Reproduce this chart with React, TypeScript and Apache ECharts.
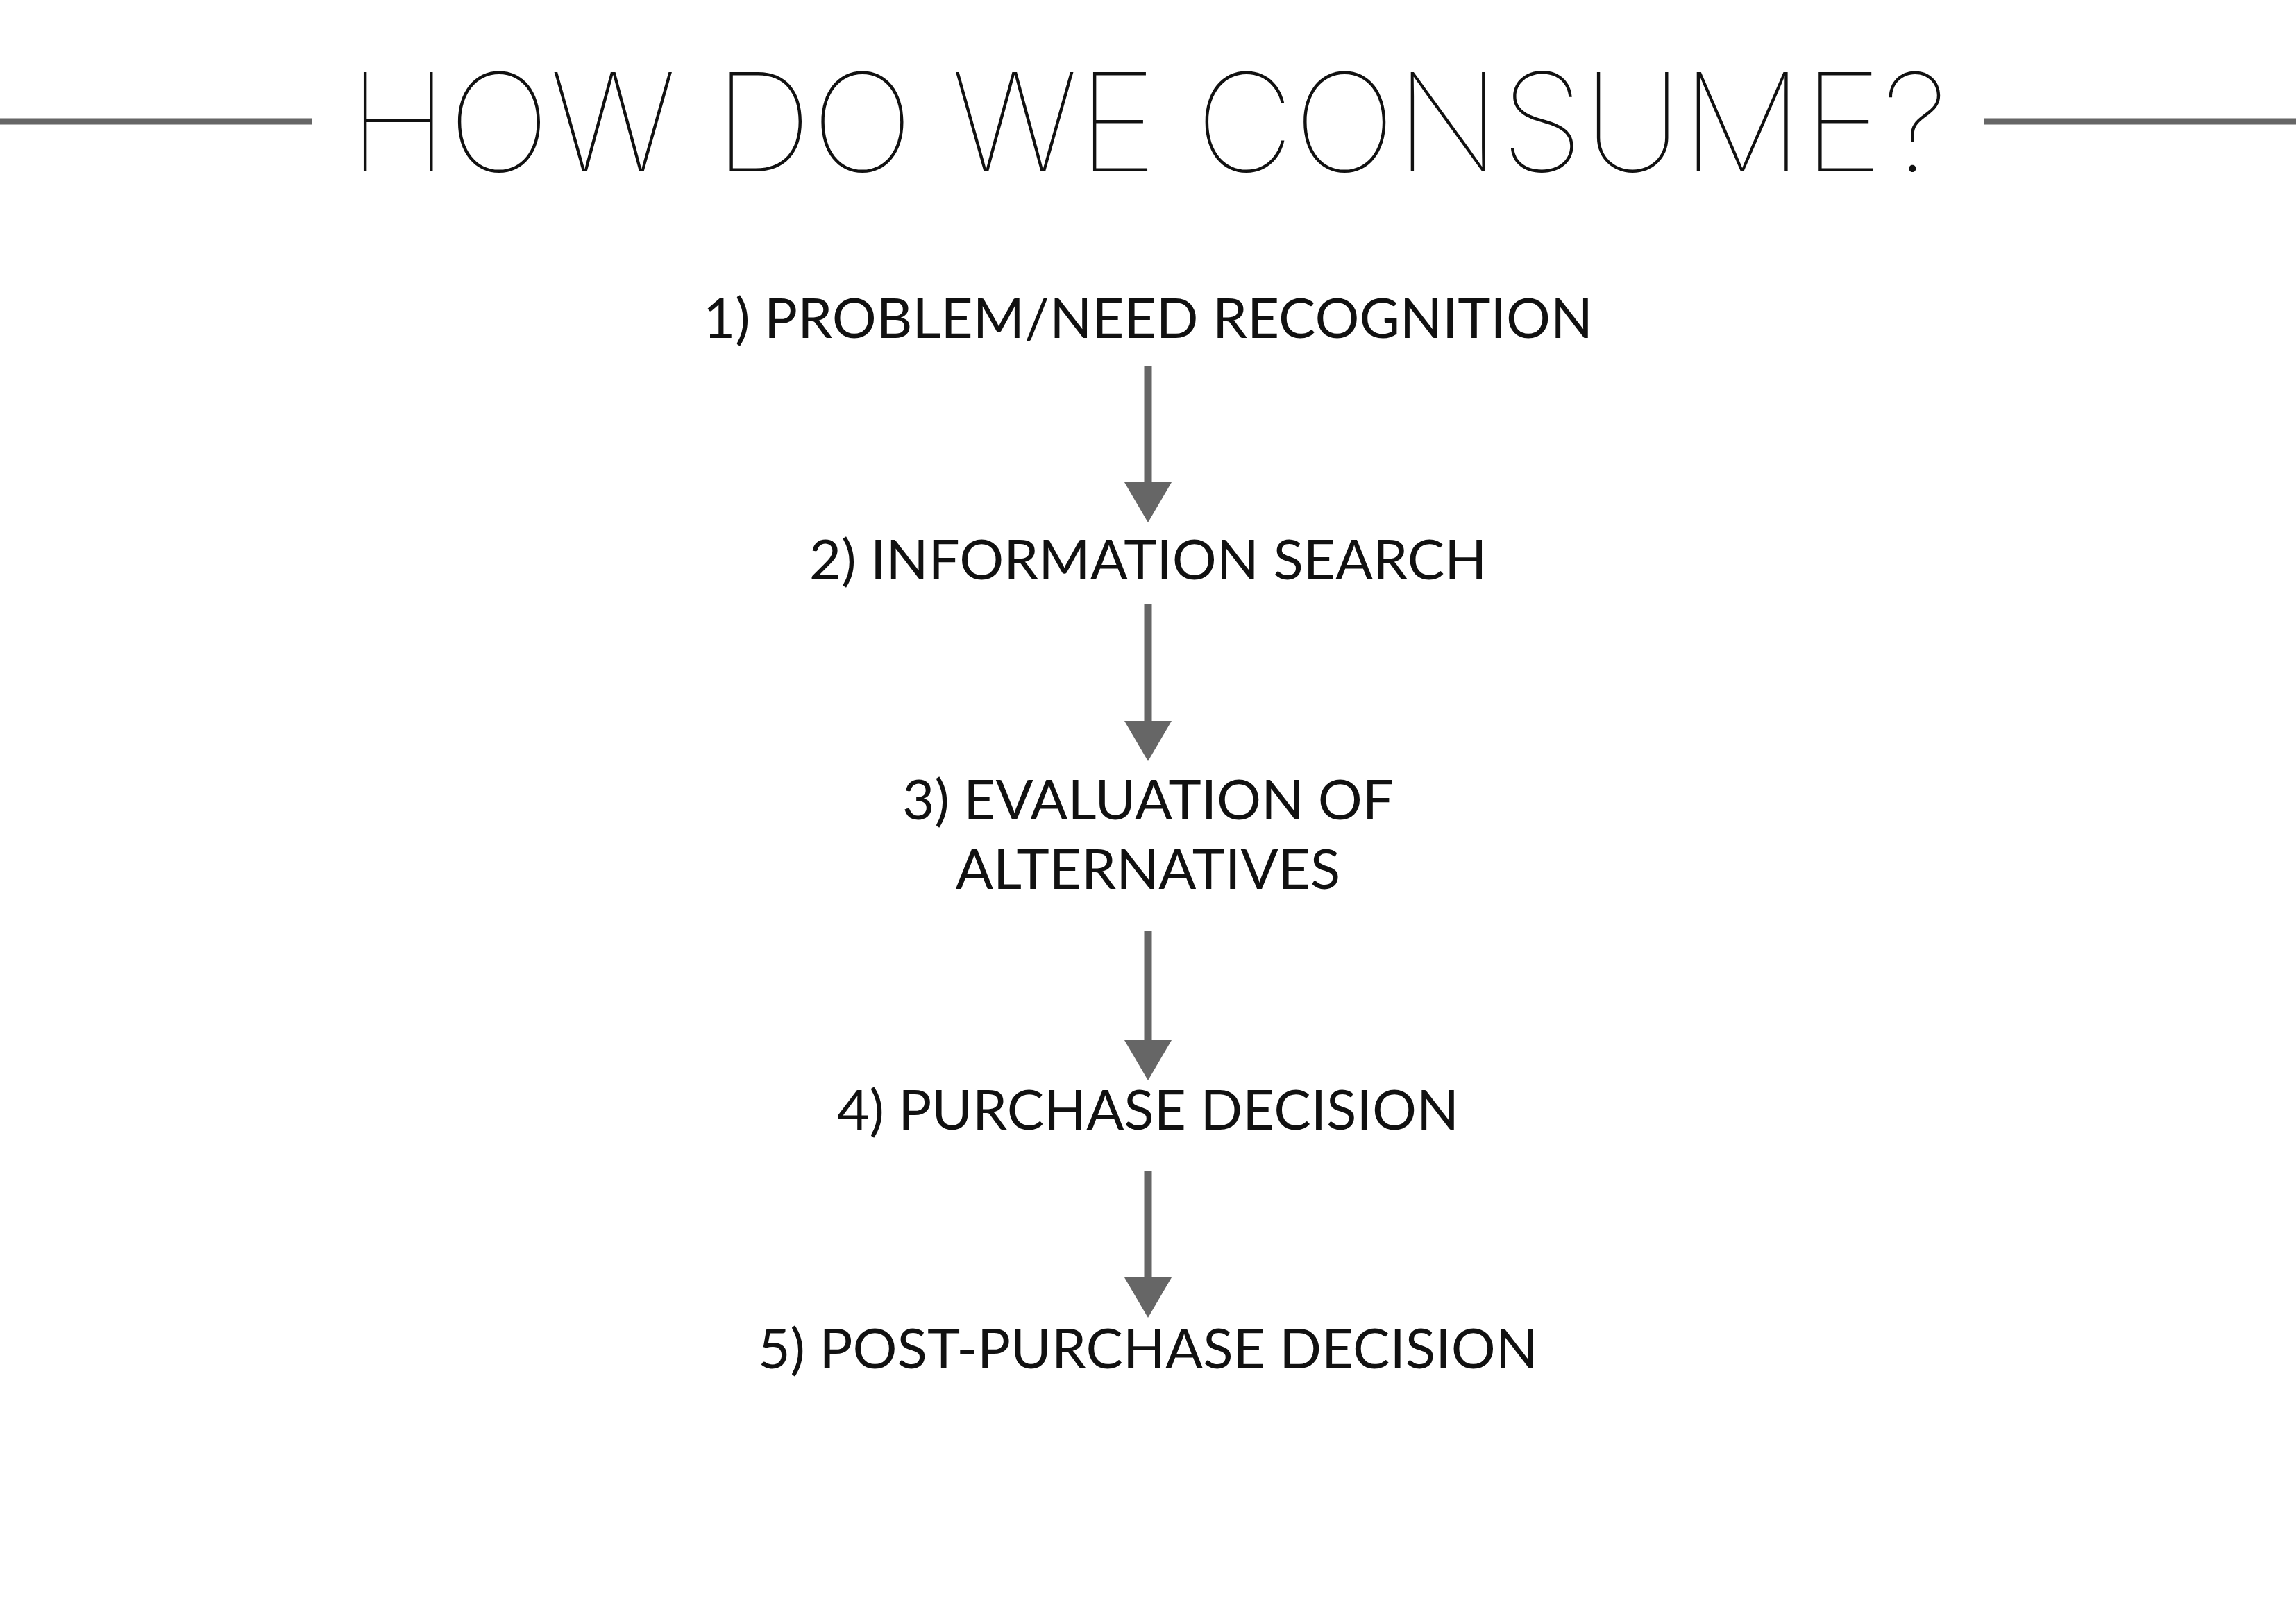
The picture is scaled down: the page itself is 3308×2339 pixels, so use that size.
import React, { useEffect, useRef } from "react";
import * as echarts from "echarts";

const TITLE = "HOW DO WE CONSUME?";
const STEPS = [
  "1) PROBLEM/NEED RECOGNITION",
  "2) INFORMATION SEARCH",
  "3) EVALUATION OF\nALTERNATIVES",
  "4) PURCHASE DECISION",
  "5) POST-PURCHASE DECISION",
];
// vertical centre of each step label
const STEP_Y = [456, 804, 1200, 1597, 1941];
// arrows between steps: [start, end of head]
const ARROWS: [number, number][] = [
  [527, 753],
  [871, 1097],
  [1342, 1557],
  [1688, 1899],
];

const GREY = "#666666";
const CX = 1654;

const App: React.FC = () => {
  const ref = useRef<HTMLDivElement>(null);

  useEffect(() => {
    if (!ref.current) return;
    const chart = echarts.init(ref.current, undefined, { renderer: "svg" });

    const graphic: any[] = [
      { type: "line", shape: { x1: 0, y1: 175, x2: 450, y2: 175 }, style: { stroke: GREY, lineWidth: 9 } },
      { type: "line", shape: { x1: 2859, y1: 175, x2: 3308, y2: 175 }, style: { stroke: GREY, lineWidth: 9 } },
      {
        type: "text",
        x: CX,
        y: 175,
        style: {
          text: TITLE,
          fontFamily: "Inter",
          fontWeight: 100,
          fontSize: 196,
          fill: "#111",
          align: "center",
          verticalAlign: "middle",
        },
      },
    ];

    STEPS.forEach((s, i) => {
      graphic.push({
        type: "text",
        x: CX,
        y: STEP_Y[i],
        style: {
          text: s,
          fontFamily: "Lato",
          fontSize: 80,
          lineHeight: 100,
          fill: "#111",
          align: "center",
          verticalAlign: "middle",
        },
      });
    });

    ARROWS.forEach(([a, b]) => {
      const head = 58;
      graphic.push({
        type: "line",
        shape: { x1: CX, y1: a, x2: CX, y2: b - head + 2 },
        style: { stroke: GREY, lineWidth: 11 },
      });
      graphic.push({
        type: "polygon",
        shape: { points: [[CX - 34, b - head], [CX + 34, b - head], [CX, b]] },
        style: { fill: GREY },
      });
    });

    chart.setOption({ animation: false, backgroundColor: "#fff", graphic });
    return () => chart.dispose();
  }, []);

  return (
    <div
      ref={ref}
      style={{ position: "fixed", left: 0, top: 0, width: 3308, height: 2339 }}
    />
  );
};

export default App;
